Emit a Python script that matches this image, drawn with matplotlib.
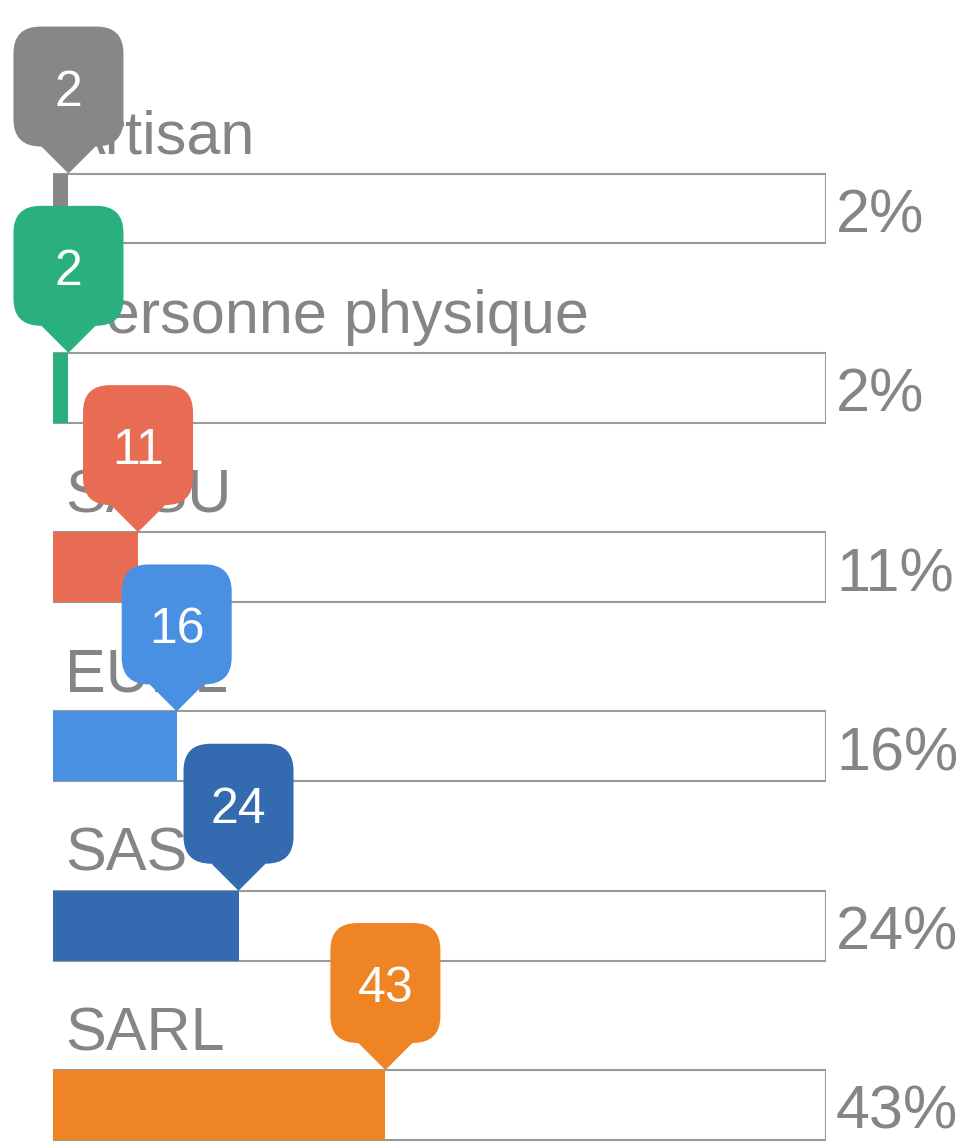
import numpy as np
import matplotlib
matplotlib.use('Agg')
import matplotlib.pyplot as plt
import matplotlib.transforms as mtransforms
from matplotlib.path import Path
from matplotlib.patches import PathPatch

# donnees
categories = ['Artisan', 'Personne physique', 'SASU', 'EURL', 'SAS', 'SARL']
valeurs = [2, 2, 11, 16, 24, 43]
couleurs = ['#878787', '#2aaf7f', '#e86c54', '#4a90e2', '#346bb0', '#ee8423']

plt.rcParams['font.family'] = ['Liberation Sans', 'DejaVu Sans']
gris_texte = '#858585'
gris_bord = '#9a9a9a'

fig = plt.figure(figsize=(9.56, 11.43), dpi=100)
ax = fig.add_axes([53 / 956, 0, 773 / 956, 1])
ax.set_xlim(0, 100)
ax.set_ylim(5.212, -1.163)
ax.axis('off')

y = np.arange(len(categories))
h = 0.39

# cadre gris puis barre de valeur
ax.barh(y, [100] * len(y), height=h, color='white', edgecolor=gris_bord,
        linewidth=1.5, zorder=1)
ax.barh(y, valeurs, height=h, color=couleurs, zorder=2)

for i, (cat, v) in enumerate(zip(categories, valeurs)):
    ax.annotate(cat, xy=(0, i - h / 2), xytext=(12, 20),
                textcoords='offset pixels', ha='left', va='baseline',
                fontsize=44, color=gris_texte, zorder=3)
    ax.annotate('%d%%' % v, xy=(100, i), xytext=(10, -24),
                textcoords='offset pixels', ha='left', va='baseline',
                fontsize=44, color=gris_texte, zorder=3,
                annotation_clip=False)

# bulles (en pixels, pointe sur le haut de la barre)
w2, r, ph, H = 55, 27, 27, 120
top = ph + H
verts = [(0, 0), (r, ph),
         (w2, ph), (w2, ph + r),
         (w2, top - r),
         (w2, top), (w2 - r, top),
         (-w2 + r, top),
         (-w2, top), (-w2, top - r),
         (-w2, ph + r),
         (-w2, ph), (-r, ph),
         (0, 0)]
codes = [Path.MOVETO, Path.LINETO,
         Path.CURVE3, Path.CURVE3,
         Path.LINETO,
         Path.CURVE3, Path.CURVE3,
         Path.LINETO,
         Path.CURVE3, Path.CURVE3,
         Path.LINETO,
         Path.CURVE3, Path.CURVE3,
         Path.CLOSEPOLY]
bulle = Path(verts, codes)

for i, (v, c) in enumerate(zip(valeurs, couleurs)):
    tr = mtransforms.Affine2D() + mtransforms.ScaledTranslation(v, i - h / 2, ax.transData)
    ax.add_patch(PathPatch(bulle, facecolor=c, edgecolor='none',
                           transform=tr, zorder=10 + 2 * i, clip_on=False))
    ax.annotate(str(v), xy=(v, i - h / 2), xytext=(0, 68),
                textcoords='offset pixels', ha='center', va='baseline',
                fontsize=36, color='white', zorder=11 + 2 * i,
                annotation_clip=False)

fig.savefig('out.png', dpi=100)
